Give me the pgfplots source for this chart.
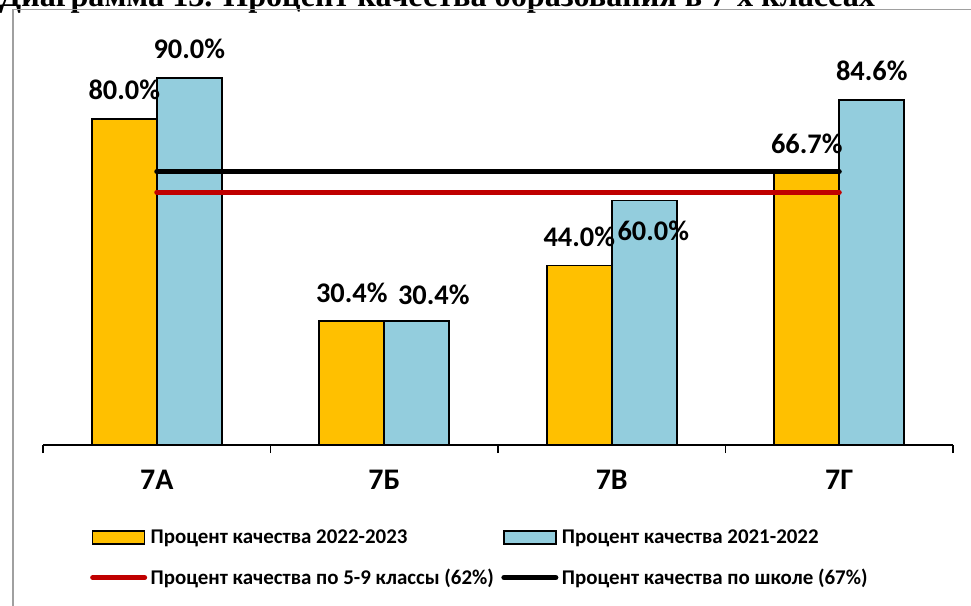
\documentclass[border=0pt]{standalone}
\usepackage{pgfplots}
\pgfplotsset{compat=1.18}
\usepackage{fontspec}
\setmainfont{Carlito}
\newfontfamily\titlefont{Liberation Serif}
\definecolor{barorange}{HTML}{FFC000}
\definecolor{barblue}{HTML}{93CDDD}
\definecolor{linered}{HTML}{C00000}
\definecolor{framegray}{HTML}{A0A0A0}
\begin{document}
\begin{tikzpicture}
\clip (0bp,0bp) rectangle (971bp,606bp);
\fill[white] (0bp,0bp) rectangle (971bp,606bp);
\node[anchor=base west, inner sep=0pt, font=\titlefont\bfseries\fontsize{32.3}{36}\selectfont] at (-1bp,599.5bp) {Диаграмма 13. Процент качества образования в 7-х классах};
\draw[framegray, line width=1.5bp] (13bp,596.5bp) rectangle (1000bp,-30bp);
\begin{axis}[
  at={(43bp,161bp)}, anchor=south west,
  scale only axis, width=910bp, height=407.8bp,
  xmin=-0.5, xmax=3.5, ymin=0, ymax=100,
  axis x line*=bottom, axis y line=none,
  x axis line style={line width=1.6bp, black, -},
  xtick={0,1,2,3}, xticklabels={7А,7Б,7В,7Г},
  major x tick style={draw=none}, major tick length=0pt,
  minor xtick={-0.5,0.5,1.5,2.5,3.5},
  minor tick length=8bp, xtick align=outside, xtick pos=lower,
  minor x tick style={black, line width=1.4bp},
  xticklabel style={font=\bfseries\fontsize{30}{32}\selectfont, anchor=base, inner sep=0pt, yshift=-44bp},
  clip=false,
  legend style={draw=none, fill=none, inner sep=0pt, at={(0.0516,-0.204)}, anchor=north west,
    font=\bfseries\fontsize{21}{24}\selectfont, nodes={inner sep=1.5bp},
    row sep=21bp,
    /tikz/every odd column/.append style={column sep=2bp},
    /tikz/every even column/.append style={column sep=6bp}},
  legend columns=2, legend cell align=left,
  nodes near coords style={font=\bfseries\fontsize{28.5}{30}\selectfont, inner sep=0pt, anchor=base, yshift=19bp, text=black},
]
\addplot[ybar, bar width=65bp, bar shift=-32.5bp, fill=barorange, draw=black, line width=1.6bp,
  point meta=y,
  nodes near coords={\pgfmathprintnumber[fixed,fixed zerofill,precision=1,assume math mode=true]{\pgfplotspointmeta}\%},
  every node near coord/.append style={xshift=-32.5bp},
  legend image code/.code={\draw[fill=barorange, draw=black, line width=1.6bp] (0bp,-6.5bp) rectangle (52bp,6.5bp);}]
  coordinates {(0,80.0) (1,30.4) (2,44.0) (3,66.7)};
\addlegendentry{Процент качества 2022-2023}
\addplot[ybar, bar width=65bp, bar shift=32.5bp, fill=barblue, draw=black, line width=1.6bp,
  point meta=y,
  nodes near coords={\pgfmathprintnumber[fixed,fixed zerofill,precision=1,assume math mode=true]{\pgfplotspointmeta}\%},
  every node near coord/.append style={xshift=32.5bp},
  coordinate style/.condition={x==1}{xshift=17bp,yshift=-2bp},
  coordinate style/.condition={x==2}{xshift=9bp,yshift=-59bp},
  legend image code/.code={\draw[fill=barblue, draw=black, line width=1.6bp] (0bp,-6.5bp) rectangle (52bp,6.5bp);}]
  coordinates {(0,90.0) (1,30.4) (2,60.0) (3,84.6)};
\addlegendentry{Процент качества 2021-2022}
\addplot[sharp plot, no marks, linered, line width=5bp, line cap=round,
  legend image code/.code={\draw[linered, line width=5bp, line cap=round] (0bp,0bp) -- (52bp,0bp);}]
  coordinates {(0,62) (1,62) (2,62) (3,62)};
\addlegendentry{Процент качества по 5-9 классы (62\%)}
\addplot[sharp plot, no marks, black, line width=5bp, line cap=round,
  legend image code/.code={\draw[black, line width=5bp, line cap=round] (0bp,0bp) -- (52bp,0bp);}]
  coordinates {(0,67) (1,67) (2,67) (3,67)};
\addlegendentry{Процент качества по школе (67\%)}
\end{axis}
\end{tikzpicture}
\end{document}
